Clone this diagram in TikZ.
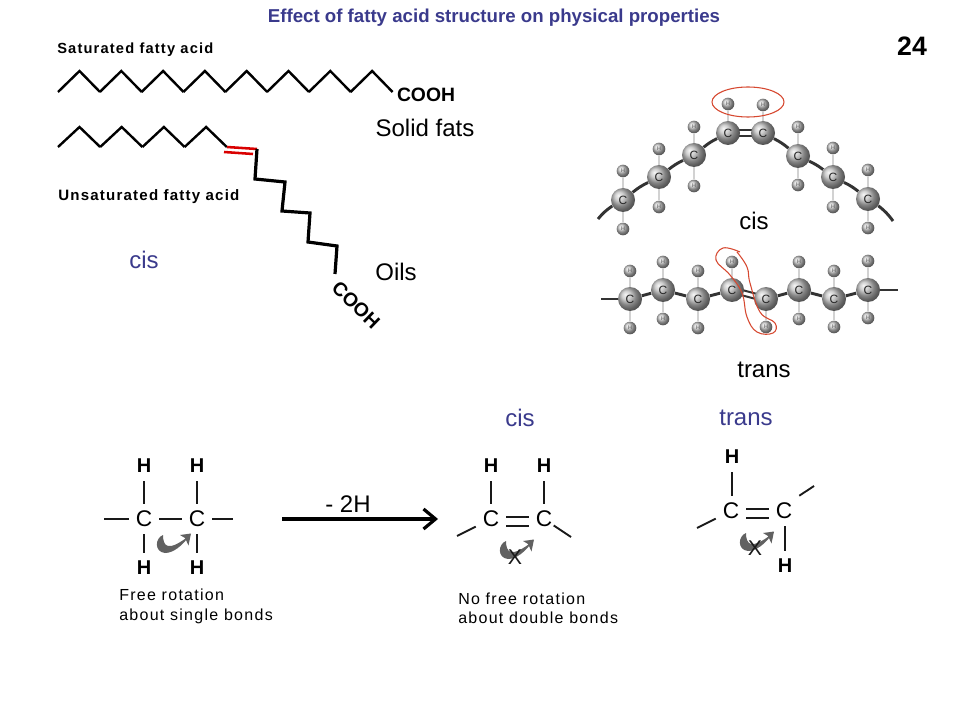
\documentclass[tikz,border=0pt]{standalone}
\usepackage{fontspec}
\setmainfont{Liberation Sans}
\newfontfamily\spaced[LetterSpace=8]{Liberation Sans}
\usetikzlibrary{arrows.meta, backgrounds}

\definecolor{slideblue}{RGB}{58,58,140}
\definecolor{penred}{RGB}{214,72,48}

\tikzset{
    chain/.style={line width=1.8pt, line join=miter},
    thickchain/.style={line width=2.4pt, line join=miter},
    redbond/.style={line width=1.9pt, red!85!black},
    penline/.style={line width=0.8pt, penred},
    carbon/.style={circle, inner sep=0pt, minimum size=18pt, shading=ball, ball color=gray!50,
        text=black!85, font=\fontsize{9}{9}\selectfont},
    hydrogen/.style={circle, inner sep=0pt, minimum size=9.5pt, shading=ball, ball color=gray!50,
        text=black!70, font=\fontsize{4}{4}\selectfont},
    stick/.style={line width=1.5pt, gray!35},
    backbone/.style={line width=2.2pt, black!80},
    bigtext/.style={font=\fontsize{18}{20}\selectfont, inner sep=0pt},
    bluetext/.style={bigtext, text=slideblue},
    labeltext/.style={font=\fontsize{12}{14.5}\selectfont\spaced, align=left, inner sep=0pt, anchor=west},
    boldlabel/.style={font=\fontsize{11}{13}\selectfont\spaced\bfseries, inner sep=0pt, anchor=west},
    cooh/.style={font=\fontsize{14.5}{16}\selectfont\bfseries, inner sep=0pt},
    catom/.style={font=\fontsize{17}{18}\selectfont, inner sep=0pt, minimum size=22.5pt},
    hatom/.style={font=\fontsize{15}{16}\selectfont\bfseries, inner sep=0pt, minimum size=22.5pt},
    bond/.style={line width=1.9pt, black!90},
    xmark/.style={font=\fontsize{16}{16}\selectfont, inner sep=0pt, black!90},
    rotsign/.pic={
        \fill [black!62] (1,-2) .. controls (-7,1) and (-8,15) .. (3,16)
            .. controls (12,16) and (20,8) .. (25,2) -- (24,1)
            .. controls (19,5) and (11,10) .. (6,9) .. controls (2,8) and (1,3) .. (1,-2);
        \fill [black!62] (29,-3.5) -- (18,-2) -- (23,1) -- (26.5,8.5) -- cycle;
    },
}

\begin{document}
\begin{tikzpicture}[x=0.75pt, y=-0.75pt]
    \useasboundingbox (0,0) rectangle (960,720);

    \node [font=\fontsize{14}{16}\selectfont\bfseries, text=slideblue, inner sep=0pt] (title) at (494,18)
        {Effect of fatty acid structure on physical properties};
    \node [font=\fontsize{20}{22}\selectfont\bfseries, inner sep=0pt] (page) at (912,46) {24};

    \node [boldlabel] (satlabel) at (57,50) {Saturated fatty acid};
    \node [boldlabel, font=\fontsize{11.3}{13}\selectfont\spaced\bfseries] (unsatlabel) at (58,197) {Unsaturated fatty acid};
    \node [cooh] (satcooh) at (426,95) {COOH};
    \node [cooh, rotate=-44] (unsatcooh) at (356,305) {COOH};
    \node [bigtext] (solid) at (425,128) {Solid fats};
    \node [bigtext] (oils) at (396,272) {Oils};
    \node [bluetext] (cisleft) at (144,260) {cis};
    \node [bigtext] (cismodel) at (754,221) {cis};
    \node [bigtext] (transmodel) at (764,370) {trans};
    \node [bluetext] (cisbottom) at (520,418) {cis};
    \node [bluetext] (transbottom) at (746,418) {trans};

    \foreach \k in {0, ..., 7} {
        \draw [chain] (58 + \k * 41.8, 92) -- (79.5 + \k * 41.8, 71) -- (100 + \k * 41.8, 92);
    }
    \foreach \k in {0, ..., 3} {
        \draw [chain] (58 + \k * 42.2, 147) -- (79.5 + \k * 42.2, 127) -- (100.2 + \k * 42.2, 147);
    }
    \draw [redbond] (227,147) -- (257,149);
    \draw [redbond] (224,152) -- (253,154);
    \draw [thickchain] (257,149) -- (255,179) -- (285,182) -- (282,211) -- (310,213)
        -- (308,242) -- (337,246) -- (335,274);

    \foreach \i/\x/\y/\uy/\dy in {
        1/623/200/171/229, 2/659/177/149/207, 3/694/155/127/186, 4/728/133/104/0,
        5/763/133/105/0, 6/798/156/127/185, 7/833/177/148/207, 8/868/199/170/228
    } {
        \node [carbon] (cisc\i) at (\x,\y) {C};
        \node [hydrogen] (cisu\i) at (\x,\uy) {H};
        \ifnum\dy>0
            \node [hydrogen] (cisd\i) at (\x,\dy) {H};
        \fi
    }
    \foreach \i/\x/\y/\uy/\dy in {
        1/630/299/271/328, 2/663/290/262/319, 3/698/299/271/328, 4/732/290/262/0,
        5/766/299/0/327, 6/799/290/262/319, 7/834/299/271/327, 8/868/290/261/318
    } {
        \node [carbon] (tc\i) at (\x,\y) {C};
        \ifnum\uy>0
            \node [hydrogen] (tu\i) at (\x,\uy) {H};
        \fi
        \ifnum\dy>0
            \node [hydrogen] (td\i) at (\x,\dy) {H};
        \fi
    }
    \coordinate (cisleftend) at (598,219);
    \coordinate (cisrightend) at (893,221);
    \coordinate (tleftend) at (601,299);
    \coordinate (trightend) at (898,290);

    \begin{scope}[on background layer]
        \foreach \i in {1, ..., 8} {
            \draw [stick] (cisc\i) -- (cisu\i);
        }
        \foreach \i in {1, 2, 3, 6, 7, 8} {
            \draw [stick] (cisc\i) -- (cisd\i);
        }
        \foreach \i in {1, 2, 3, 4, 6, 7, 8} {
            \draw [stick] (tc\i) -- (tu\i);
        }
        \foreach \i in {1, 2, 3, 5, 6, 7, 8} {
            \draw [stick] (tc\i) -- (td\i);
        }
        \foreach \i/\j in {1/2, 2/3, 3/4, 5/6, 6/7, 7/8} {
            \draw [backbone] (cisc\i) to [bend left=6] (cisc\j);
            \draw [backbone] (tc\i) -- (tc\j);
        }
        \draw [backbone] (cisleftend) to [bend left=8] (cisc1);
        \draw [backbone] (cisc8) to [bend left=8] (cisrightend);
        \draw [backbone] (tleftend) -- (tc1);
        \draw [backbone] (tc8) -- (trightend);
        \draw [backbone, line width=1.5pt] ([yshift=2pt]cisc4.center) -- ([yshift=2pt]cisc5.center);
        \draw [backbone, line width=1.5pt] ([yshift=-2pt]cisc4.center) -- ([yshift=-2pt]cisc5.center);
        \draw [backbone, line width=1.5pt] ([yshift=2pt]tc4.center) -- ([yshift=2pt]tc5.center);
        \draw [backbone, line width=1.5pt] ([yshift=-2pt]tc4.center) -- ([yshift=-2pt]tc5.center);
    \end{scope}

    \draw [penline] (748,102) ellipse [x radius=36, y radius=15];
    \draw [penline] plot [smooth, tension=0.7] coordinates {
        (740,252) (723,248) (716,260) (730,275) (742,293) (747,317) (757,332)
        (773,333) (775,323) (760,312) (750,283) (747,267) (737,252)
    };

    \node [hatom] (sat1) at (144,466) {H};
    \node [hatom] (sat2) at (197,466) {H};
    \node [catom] (satc1) at (144,519) {C};
    \node [catom] (satc2) at (197,519) {C};
    \node [hatom] (sat3) at (144,568) {H};
    \node [hatom] (sat4) at (197,568) {H};
    \coordinate (satleft) at (104,519);
    \coordinate (satright) at (233,519);
    \draw [bond] (sat1.south) -- (satc1.north);
    \draw [bond] (sat2.south) -- (satc2.north);
    \draw [bond] (satc1.south) -- (sat3.north);
    \draw [bond] (satc2.south) -- (sat4.north);
    \draw [bond] (satleft) -- (satc1.west);
    \draw [bond] (satc1.east) -- (satc2.west);
    \draw [bond] (satc2.east) -- (satright);
    \pic at (162,537) {rotsign};
    \node [labeltext] (freelabel) at (119,606.5) {Free rotation\\about single bonds};

    \coordinate (arrowstart) at (282,519);
    \coordinate (arrowend) at (438,519);
    \draw [line width=2.4pt, -{Straight Barb[length=9pt, width=15pt]}] (arrowstart) -- (arrowend);
    \node [bigtext] (minus) at (348,504) {- 2H};

    \node [hatom] (cis1) at (491,466) {H};
    \node [hatom] (cis2) at (544,466) {H};
    \node [catom] (cisa) at (491,519) {C};
    \node [catom] (cisb) at (544,519) {C};
    \coordinate (cisfreea) at (457,536);
    \coordinate (cisfreeb) at (571,537);
    \draw [bond] (cis1.south) -- (cisa.north);
    \draw [bond] (cis2.south) -- (cisb.north);
    \draw [bond] ([yshift=1.5pt]cisa.east) -- ([yshift=1.5pt]cisb.west);
    \draw [bond] ([yshift=-5.25pt]cisa.east) -- ([yshift=-5.25pt]cisb.west);
    \draw [bond, line width=1.4pt] (cisfreea) -- (cisa);
    \draw [bond, line width=1.4pt, shorten >=-5pt] (cisfreeb) -- (cisb);
    \pic at (505,543) {rotsign};
    \node [xmark] (cisx) at (515,557) {X};
    \node [labeltext] (nofreelabel) at (458,608.5) {No free rotation\\about double bonds};

    \node [hatom] (trans1) at (732,457) {H};
    \node [catom] (transa) at (731,511) {C};
    \node [catom] (transb) at (784,511) {C};
    \node [hatom] (trans2) at (785,566) {H};
    \coordinate (transfreea) at (697,528);
    \coordinate (transfreeb) at (814,486);
    \draw [bond] (trans1.south) -- (trans1.south |- transa.north);
    \draw [bond] (trans2.north |- transb.south) -- (trans2.north);
    \draw [bond] ([yshift=1.5pt]transa.east) -- ([yshift=1.5pt]transb.west);
    \draw [bond] ([yshift=-5.25pt]transa.east) -- ([yshift=-5.25pt]transb.west);
    \draw [bond, line width=1.4pt] (transfreea) -- (transa);
    \draw [bond, line width=1.4pt] (transfreeb) -- (transb.north east);
    \pic at (745,535) {rotsign};
    \node [xmark] (transx) at (755,548) {X};
\end{tikzpicture}
\end{document}
